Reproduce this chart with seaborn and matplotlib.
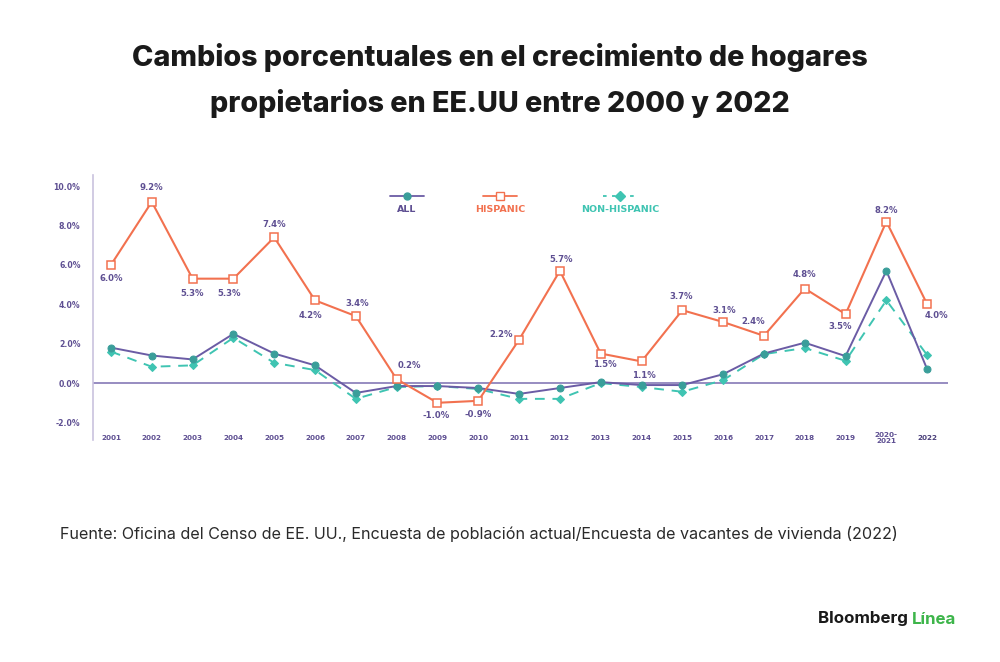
import matplotlib
matplotlib.use("Agg")
import matplotlib.pyplot as plt
import seaborn as sns
import numpy as np
import pandas as pd
from matplotlib.lines import Line2D

years = ["2001", "2002", "2003", "2004", "2005", "2006", "2007", "2008", "2009", "2010",
         "2011", "2012", "2013", "2014", "2015", "2016", "2017", "2018", "2019",
         "2020-\n2021", "2022"]
hispanic = [6.0, 9.2, 5.3, 5.3, 7.4, 4.2, 3.4, 0.2, -1.0, -0.9, 2.2, 5.7, 1.5, 1.1,
            3.7, 3.1, 2.4, 4.8, 3.5, 8.2, 4.0]
all_hh = [1.8, 1.4, 1.2, 2.5, 1.5, 0.9, -0.5, -0.15, -0.15, -0.25, -0.55, -0.25, 0.05,
          -0.1, -0.1, 0.45, 1.5, 2.05, 1.37, 5.7, 0.7]
non_hispanic = [1.6, 0.83, 0.9, 2.3, 1.03, 0.66, -0.8, -0.2, -0.15, -0.3, -0.8, -0.8, 0.0,
                -0.2, -0.44, 0.15, 1.47, 1.78, 1.13, 4.2, 1.42]
yticks = [-2.0, 0.0, 2.0, 4.0, 6.0, 8.0, 10.0]
series_names = ["ALL", "HISPANIC", "NON-HISPANIC"]

# label offsets (points) for Hispanic annotations
label_offsets = [(0, -10), (0, 10), (0, -11), (-3, -11), (0, 9), (-3, -11), (1, 9), (9, 10),
                 (-1, -9), (0, -10), (-13, 4), (1, 8), (3, -8), (2, -10), (-1, 10), (1, 8),
                 (-8, 10), (0, 10), (-4, -9), (0, 8), (7, -8)]

PURPLE = "#6B5CA5"
TEXTPUR = "#5E4F92"
ORANGE = "#F2714F"
TEAL = "#3FC4B2"
TEALDK = "#3A9E9A"

sns.set_theme(style="white")
plt.rcParams['font.family'] = ['DejaVu Sans']

fig = plt.figure(figsize=(10, 6.62), dpi=100)
ax = fig.add_axes([0.093, 0.335, 0.855, 0.4003])

x = np.arange(len(years))
df = pd.DataFrame({"x": x, "ALL": all_hh, "HISPANIC": hispanic, "NON-HISPANIC": non_hispanic})

ax.axhline(0, color="#8F84BC", lw=1.3, zorder=1)

sns.lineplot(data=df, x="x", y="NON-HISPANIC", ax=ax, color=TEAL, lw=1.4,
             linestyle=(0, (5, 4)), marker="D", markersize=4.5, markerfacecolor=TEAL,
             markeredgecolor=TEAL, zorder=3)
sns.lineplot(data=df, x="x", y="ALL", ax=ax, color=PURPLE, lw=1.4,
             marker="o", markersize=5, markerfacecolor=TEALDK, markeredgecolor=TEALDK, zorder=4)
sns.lineplot(data=df, x="x", y="HISPANIC", ax=ax, color=ORANGE, lw=1.5,
             marker="s", markersize=6, markerfacecolor="white", markeredgecolor=ORANGE,
             markeredgewidth=1.1, zorder=5)

for xi, v, off in zip(x, hispanic, label_offsets):
    ax.annotate(f"{v:.1f}%", (xi, v), xytext=off, textcoords="offset points",
                ha="center", va="center", fontsize=6.1, fontweight="bold", color=TEXTPUR)

ax.set_xlim(-0.44, 20.51)
ax.set_ylim(-2.9, 10.55)
ax.set_yticks(yticks)
ax.set_yticklabels([f"{t:.1f}%" for t in yticks], fontsize=5.6, fontweight="bold", color=TEXTPUR)
ax.tick_params(axis="y", length=0, pad=9)
ax.set_xticks([])
ax.set_xlabel("")
ax.set_ylabel("")
for i, lab in enumerate(years):
    ax.text(i, -2.78, lab, ha="center", va="center", fontsize=5.2, fontweight="bold",
            color=TEXTPUR if i < len(years) - 1 else "#4A3F7A", linespacing=1.0)

for s in ["top", "right", "bottom"]:
    ax.spines[s].set_visible(False)
ax.spines["left"].set_color("#C9C2DE")
ax.spines["left"].set_linewidth(1.2)

# custom legend
leg_specs = [
    (0.407, "ALL", PURPLE, "-", "o", TEALDK, TEALDK, TEXTPUR, 5),
    (0.500, "HISPANIC", ORANGE, "-", "s", "white", ORANGE, ORANGE, 6),
    (0.620, "NON-HISPANIC", TEAL, (0, (2, 3)), "D", TEAL, TEAL, TEAL, 5),
]
for (cx, name, lc, ls, mk, mfc, mec, tc, ms) in leg_specs:
    fig.add_artist(Line2D([cx - 0.017, cx + 0.017], [1 - 196 / 662] * 2, color=lc, lw=1.3,
                          linestyle=ls, transform=fig.transFigure))
    fig.add_artist(Line2D([cx], [1 - 196 / 662], marker=mk, markersize=ms, markerfacecolor=mfc,
                          markeredgecolor=mec, linestyle="none", transform=fig.transFigure))
    fig.text(cx, 1 - 210 / 662, name, ha="center", va="center", fontsize=6.8,
             fontweight="bold", color=tc)

fig.text(0.5, 1 - 57 / 662, "Cambios porcentuales en el crecimiento de hogares",
         ha="center", va="center", fontsize=20.7, fontweight="heavy", color="#1A1A1A",
         family="Inter")
fig.text(0.5, 1 - 103 / 662, "propietarios en EE.UU entre 2000 y 2022",
         ha="center", va="center", fontsize=20.7, fontweight="heavy", color="#1A1A1A",
         family="Inter")
fig.text(0.060, 1 - 534 / 662,
         "Fuente: Oficina del Censo de EE. UU., Encuesta de población actual/Encuesta de vacantes de vivienda (2022)",
         ha="left", va="center", fontsize=11.6, color="#2A2A2A", family="Inter")
t1 = fig.text(0.818, 1 - 619 / 662, "Bloomberg ", ha="left", va="center", fontsize=12.2,
              fontweight="bold", color="#1A1A1A", family="Inter")
fig.canvas.draw()
bb = t1.get_window_extent()
fig.text(bb.x1 / fig.bbox.width, 1 - 619 / 662, "Línea", ha="left", va="center",
         fontsize=12.2, fontweight="bold", color="#3DB54A", family="Inter")

fig.savefig("out.png", dpi=100, facecolor="white")
